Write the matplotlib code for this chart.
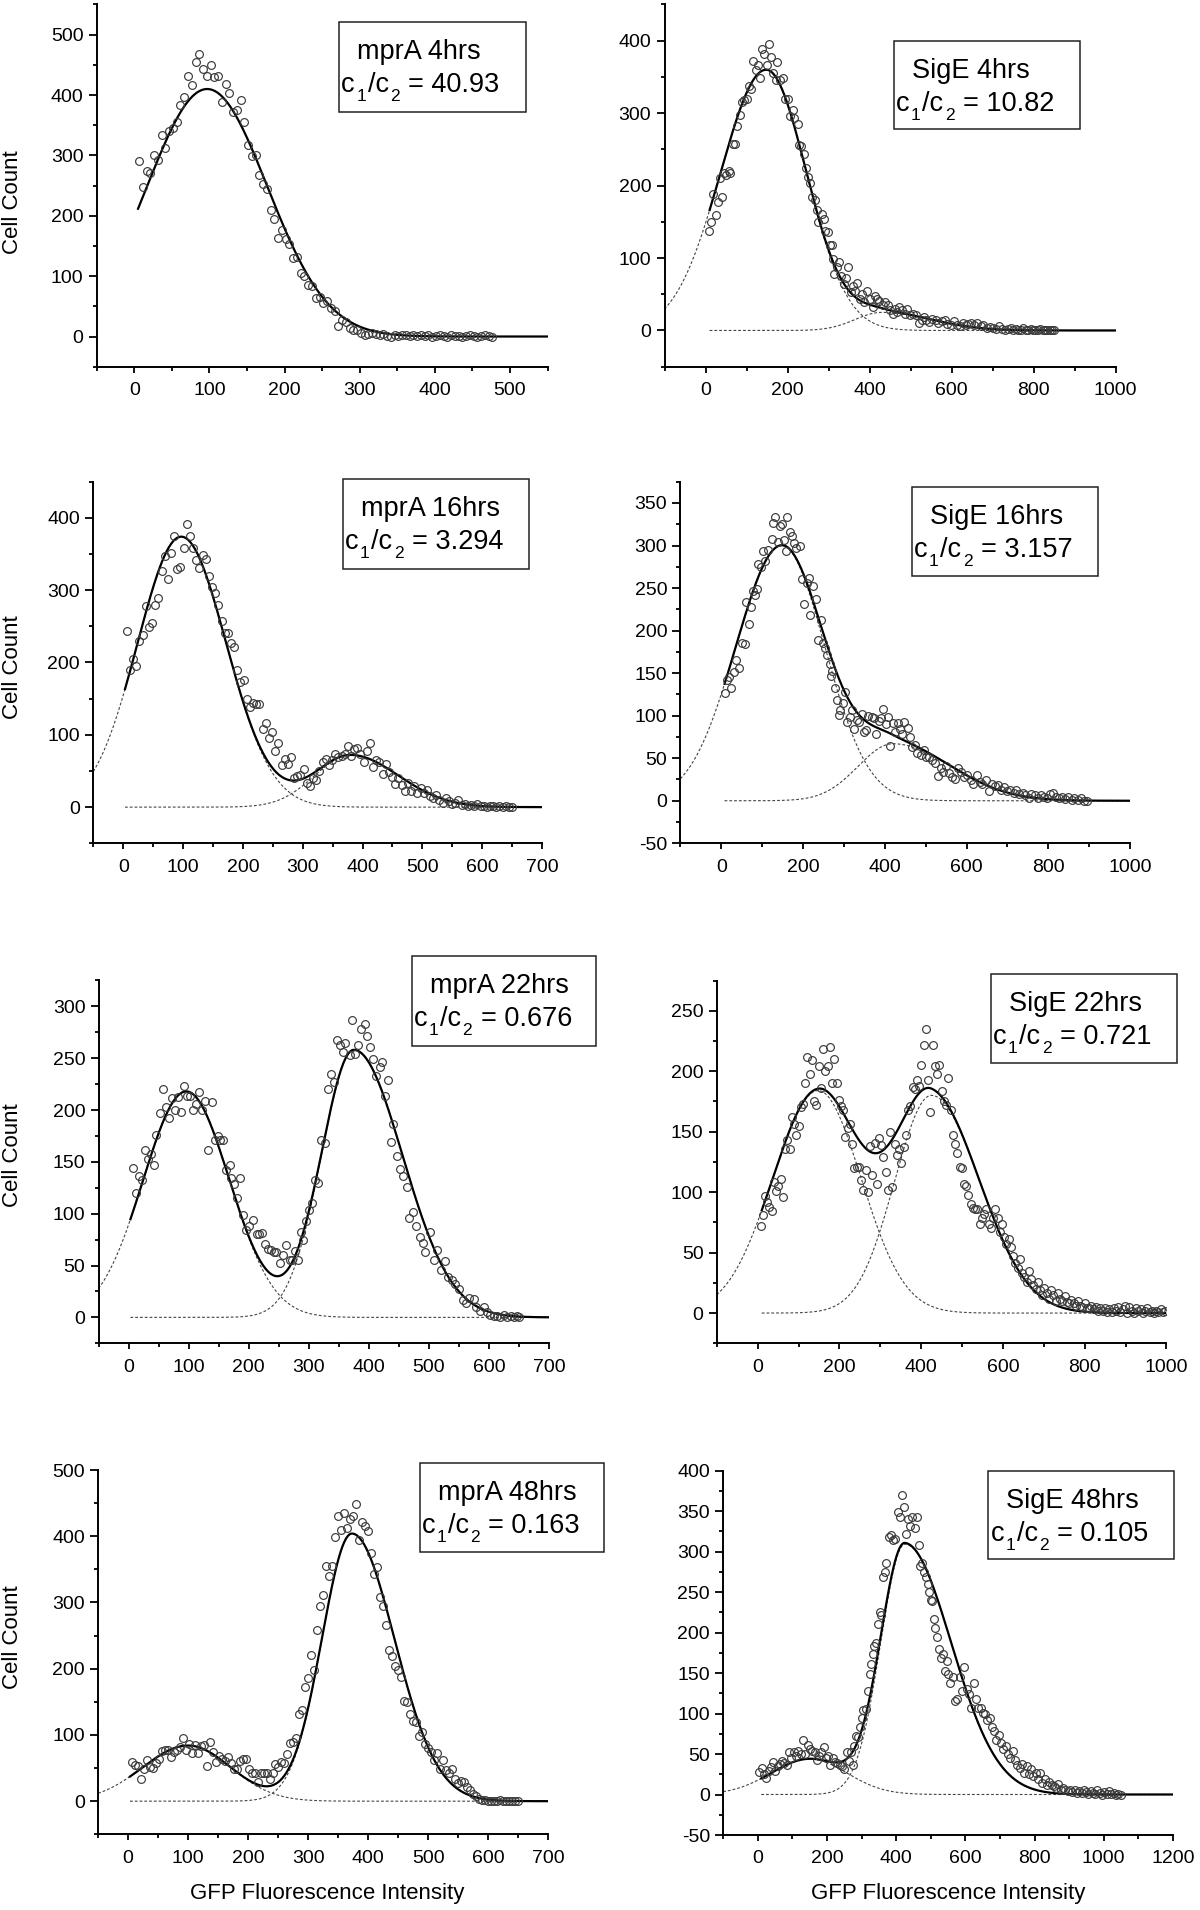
import numpy as np
import matplotlib.pyplot as plt
from matplotlib.patches import Rectangle
from matplotlib.ticker import MultipleLocator

plt.rcParams['font.family'] = ['Liberation Sans', 'DejaVu Sans']
plt.rcParams['axes.unicode_minus'] = False

W, H = 1200, 1910

### Data: GFP histogram bins (x) and cell counts (y)

names = ["mprA 4hrs", "SigE 4hrs", "mprA 16hrs", "SigE 16hrs",
         "mprA 22hrs", "SigE 22hrs", "mprA 48hrs", "SigE 48hrs"]
ratios = ["40.93", "10.82", "3.294", "3.157", "0.676", "0.721", "0.163", "0.105"]

counts_mprA_4 = [290, 247, 274, 271, 300, 293, 333, 313, 340, 346,
                 355, 383, 397, 432, 417, 454, 468, 443, 432, 449,
                 430, 431, 389, 418, 404, 372, 376, 391, 355, 318,
                 299, 301, 268, 252, 245, 209, 194, 164, 176, 162,
                 153, 130, 132, 105, 101, 86, 84, 63, 66, 55,
                 59, 48, 43, 18, 27, 24, 14, 11, 10, 6,
                 3, 4, 6, 4, 2, 4, 1, 0, 3, 1,
                 2, 3, 1, 2, 1, 2, 1, 3, 0, 1,
                 2, 1, 0, 2, 1, 1, 0, 1, 2, 1,
                 0, 1, 2, 1, 0]
x_mprA_4 = np.linspace(6.5, 476.5, len(counts_mprA_4))

x_sigE_4 = [9, 14, 19, 25, 30, 35, 40, 44, 51, 57,
            60, 66, 72, 77, 84, 89, 94, 100, 105, 112,
            117, 122, 128, 134, 137, 143, 149, 154, 160, 165,
            171, 174, 182, 189, 195, 201, 206, 213, 217, 225,
            229, 234, 240, 245, 250, 255, 259, 266, 272, 275,
            283, 288, 292, 298, 303, 309, 310, 314, 320, 326,
            331, 337, 343, 348, 354, 359, 364, 370, 376, 382,
            387, 395, 401, 408, 413, 419, 424, 432, 438, 445,
            451, 457, 462, 467, 473, 480, 486, 492, 499, 507,
            514, 521, 527, 533, 538, 546, 553, 561, 568, 576,
            583, 590, 598, 605, 613, 620, 628, 635, 641, 648,
            656, 663, 671, 678, 686, 693, 700, 708, 715, 723,
            730, 738, 745, 751, 757, 763, 769, 775, 781, 787,
            793, 799, 804, 810, 816, 822, 828, 834, 840, 845, 850]
counts_sigE_4 = [138, 150, 189, 159, 177, 210, 184, 217, 214, 220,
                 217, 258, 257, 282, 297, 316, 318, 320, 337, 333,
                 372, 359, 367, 348, 389, 382, 366, 396, 377, 355,
                 346, 370, 346, 348, 320, 319, 296, 304, 293, 285,
                 256, 254, 244, 224, 212, 204, 184, 180, 167, 150,
                 161, 154, 138, 136, 118, 118, 99, 78, 88, 94,
                 75, 64, 73, 88, 53, 61, 54, 65, 43, 51,
                 39, 55, 44, 32, 47, 44, 41, 35, 39, 35,
                 28, 23, 30, 25, 33, 28, 23, 30, 21, 23,
                 22, 10, 14, 18, 14, 12, 16, 15, 10, 13,
                 15, 9, 7, 13, 8, 6, 10, 7, 9, 10,
                 7, 10, 6, 7, 4, 5, 4, 2, 6, 2,
                 1, 2, 3, 1, 2, 0, 1, 3, 1, 0,
                 2, 1, 0, 1, 2, 0, 1, 0, 1, 0, 1]

counts_mprA_16 = [243, 189, 205, 195, 230, 238, 278, 249, 255, 279,
                  289, 327, 347, 316, 351, 375, 329, 332, 358, 391,
                  375, 359, 342, 330, 349, 343, 319, 304, 296, 279,
                  257, 241, 241, 227, 222, 190, 173, 176, 149, 138,
                  144, 143, 143, 108, 117, 95, 104, 77, 88, 58,
                  67, 60, 69, 40, 43, 44, 53, 33, 29, 40,
                  37, 50, 62, 66, 58, 65, 74, 69, 71, 74,
                  85, 71, 80, 82, 74, 62, 78, 89, 56, 65,
                  63, 46, 59, 49, 42, 32, 40, 31, 23, 33,
                  22, 29, 19, 26, 20, 24, 15, 12, 17, 10,
                  6, 12, 9, 5, 6, 10, 3, 5, 2,
                  3, 2, 4, 1, 2, 0, 1, 2, 0, 1, 0, 1, 0, 0]
x_mprA_16 = np.linspace(6, 650, len(counts_mprA_16))

x_sigE_16 = [8, 14, 18, 23, 31, 37, 43, 50, 57, 61,
             67, 73, 78, 83, 87, 91, 96, 102, 108, 115,
             123, 126, 132, 139, 143, 149, 154, 158, 162, 168,
             173, 179, 184, 192, 198, 203, 209, 214, 218, 224,
             231, 237, 243, 248, 254, 259, 265, 269, 272, 278,
             284, 287, 291, 297, 302, 308, 314, 319, 325, 331,
             338, 344, 349, 355, 360, 368, 374, 379, 385, 391,
             396, 402, 407, 413, 419, 424, 432, 437, 443, 448,
             456, 462, 467, 473, 480, 488, 495, 501, 508, 516,
             523, 531, 537, 542, 550, 557, 565, 572, 580, 587,
             595, 602, 610, 617, 625, 632, 639, 647, 654, 662,
             670, 677, 684, 692, 699, 707, 715, 722, 729, 737,
             744, 752, 759, 767, 774, 782, 789, 797, 804, 812,
             819, 827, 834, 842, 849, 857, 864, 872, 879, 887, 894]
counts_sigE_16 = [127, 142, 145, 133, 151, 166, 156, 185, 184, 234,
                  208, 228, 246, 242, 249, 278, 275, 294, 282, 295,
                  308, 326, 333, 304, 323, 325, 306, 294, 333, 316,
                  311, 303, 297, 299, 261, 231, 256, 262, 218, 252,
                  237, 189, 213, 185, 179, 171, 161, 147, 153, 132,
                  118, 101, 107, 115, 128, 92, 99, 107, 84, 95,
                  93, 102, 81, 83, 100, 99, 97, 79, 94, 97,
                  108, 90, 98, 64, 91, 81, 91, 84, 78, 93,
                  85, 75, 63, 65, 56, 54, 60, 51, 52, 48,
                  44, 29, 38, 34, 41, 33, 28, 25, 38, 34,
                  28, 30, 24, 20, 30, 22, 20, 24, 12, 20,
                  17, 18, 13, 16, 11, 13, 9, 13, 8, 9,
                  7, 3, 8, 7, 3, 7, 5, 3, 8, 9,
                  5, 3, 5, 2, 4, 1, 3, 1, 3, 0, 0]

x_mprA_22 = [7, 12, 18, 23, 28, 32, 37, 43, 46, 52,
             57, 62, 68, 73, 77, 83, 88, 93, 98, 102,
             107, 112, 117, 123, 127, 132, 138, 143, 148, 152,
             157, 162, 168, 171, 176, 181, 186, 190, 195, 201,
             207, 213, 217, 222, 227, 232, 237, 242, 246, 252,
             257, 262, 268, 272, 277, 282, 287, 291, 296, 301,
             306, 311, 316, 321, 327, 332, 337, 342, 347, 352,
             357, 361, 368, 372, 377, 382, 387, 393, 397, 402,
             407, 412, 418, 422, 427, 432, 437, 441, 447, 452,
             457, 463, 467, 473, 479, 485, 490, 494, 502, 508,
             513, 520, 526, 532, 538, 544, 550, 556, 562, 567,
             575, 579, 585, 591, 596, 602, 608, 613, 619, 625,
             630, 636, 641, 646, 650]
counts_mprA_22 = [144, 120, 136, 133, 161, 153, 158, 147, 176, 197,
                  220, 203, 192, 212, 200, 213, 198, 223, 214, 214,
                  200, 206, 217, 200, 209, 161, 208, 171, 175, 171,
                  171, 142, 147, 134, 129, 115, 134, 99, 84, 88,
                  94, 80, 80, 81, 71, 66, 65, 63, 63, 52,
                  60, 70, 55, 55, 64, 55, 82, 75, 93, 104,
                  110, 133, 130, 171, 168, 220, 235, 227, 268, 263,
                  256, 265, 253, 287, 254, 263, 278, 283, 271, 261,
                  249, 233, 242, 246, 214, 229, 169, 187, 156, 143,
                  136, 126, 96, 102, 88, 78, 72, 63, 82, 55,
                  65, 46, 54, 39, 36, 32, 27, 17, 14, 19,
                  18, 10, 6, 10, 5, 2, 1, 1, 0, 2,
                  0, 1, 0, 1, 0]

counts_sigE_22 = [72, 81, 97, 92, 88, 84, 108, 101, 105, 111,
                  96, 136, 143, 136, 162, 156, 147, 155, 170, 173,
                  190, 212, 198, 209, 175, 172, 204, 186, 218, 200,
                  204, 220, 190, 210, 190, 176, 171, 168, 146, 153,
                  156, 140, 120, 121, 121, 110, 102, 118, 100, 138,
                  114, 141, 107, 145, 139, 129, 117, 102, 150, 104,
                  140, 131, 136, 124, 137, 147, 168, 171, 187, 185,
                  193, 188, 205, 222, 235, 193, 166, 222, 204, 198,
                  205, 184, 175, 172, 194, 168, 147, 140, 132, 121,
                  120, 107, 105, 98, 90, 87, 86, 86, 74, 79,
                  82, 86, 74, 70, 79, 86, 79, 67, 74, 63,
                  57, 61, 55, 47, 41, 37, 45, 33, 30, 26,
                  35, 28, 23, 20, 26, 19, 15, 21, 17, 12,
                  19, 15, 10, 17, 12, 10, 14, 9, 8, 11,
                  8, 6, 10, 6, 5, 8, 4, 4, 6, 3,
                  5, 2, 4, 2, 4, 1, 3, 1, 4, 2,
                  5, 1, 3, 6, 0, 5, 2, 0, 4, 2,
                  3, 0, 2, 4, 1, 2, 0, 2, 1, 3,
                  1, 2]
x_sigE_22 = np.linspace(7, 997, len(counts_sigE_22))

counts_mprA_48 = [59, 54, 53, 33, 48, 62, 52, 50, 57, 63,
                  76, 78, 77, 66, 75, 77, 82, 96, 77, 87,
                  73, 85, 72, 83, 85, 53, 90, 75, 59, 68,
                  63, 61, 67, 58, 49, 49, 61, 64, 64, 49,
                  43, 42, 29, 43, 43, 43, 34, 43, 56, 52,
                  59, 57, 71, 88, 90, 95, 131, 137, 172, 186,
                  221, 198, 259, 295, 311, 355, 340, 355, 399, 431,
                  410, 435, 413, 426, 431, 449, 394, 422, 415, 408,
                  374, 343, 353, 309, 295, 266, 228, 219, 204, 198,
                  187, 152, 149, 132, 121, 120, 98, 105, 87, 80,
                  75, 62, 72, 49, 62, 47, 42, 49, 33, 27,
                  31, 29, 22, 17, 11, 8, 4, 2,
                  2, 1, 0, 1, 0, 2, 0, 1, 0, 0, 1, 0]
x_mprA_48 = np.linspace(6, 650, len(counts_mprA_48))

x_sigE_48 = [4, 11, 18, 24, 31, 38, 44, 51, 57, 64,
             71, 77, 84, 91, 97, 104, 111, 117, 124, 131,
             137, 144, 150, 157, 164, 170, 177, 184, 190, 197,
             204, 210, 217, 223, 230, 237, 243, 250, 257, 263,
             269, 274, 279, 283, 290, 296, 301, 305, 312, 319,
             323, 327, 332, 336, 343, 347, 352, 356, 363, 367,
             372, 378, 385, 392, 398, 405, 411, 418, 422, 427,
             434, 440, 447, 454, 460, 465, 469, 476, 480, 485,
             491, 496, 500, 504, 509, 513, 518, 524, 531, 535,
             540, 546, 551, 557, 564, 571, 577, 584, 590, 597,
             604, 610, 617, 624, 631, 637, 644, 650, 657, 664,
             670, 677, 684, 690, 697, 704, 710, 717, 723, 730,
             737, 743, 750, 757, 763, 770, 777, 783, 790, 796,
             803, 810, 816, 823, 830, 836, 843, 850, 856, 863,
             869, 876, 883, 889, 896, 903, 909, 916, 923, 929,
             936, 943, 949, 956, 962, 969, 976, 982, 989, 996,
             1002, 1009, 1016, 1022, 1029, 1036, 1042, 1049]
counts_sigE_48 = [28, 33, 25, 20, 29, 34, 40, 29, 35, 38,
                  41, 39, 37, 52, 45, 53, 48, 54, 50, 67,
                  50, 61, 56, 54, 52, 42, 48, 53, 59, 45,
                  48, 36, 45, 40, 39, 37, 35, 32, 52, 41,
                  52, 37, 60, 72, 71, 83, 94, 104, 105, 128,
                  149, 161, 174, 183, 187, 211, 225, 221, 269, 275,
                  286, 318, 320, 314, 316, 349, 342, 370, 355, 322,
                  340, 331, 343, 329, 342, 308, 282, 286, 275, 268,
                  260, 250, 240, 239, 217, 206, 195, 180, 169, 174,
                  153, 165, 149, 138, 145, 116, 118, 145, 128, 157,
                  130, 124, 107, 138, 118, 107, 107, 101, 99, 92,
                  95, 83, 79, 67, 74, 64, 56, 60, 50, 45,
                  54, 42, 37, 33, 38, 27, 35, 25, 31, 23,
                  27, 19, 26, 14, 19, 12, 16, 12, 10, 8,
                  13, 5, 8, 6, 4, 6, 3, 5, 2, 4,
                  2, 6, 3, 1, 4, 2, 1, 6, 2, 0,
                  3, 1, 4, 1, 2, 0, 1, 0]

bins = [x_mprA_4, x_sigE_4, x_mprA_16, x_sigE_16,
        x_mprA_22, x_sigE_22, x_mprA_48, x_sigE_48]
counts = [counts_mprA_4, counts_sigE_4, counts_mprA_16, counts_sigE_16,
          counts_mprA_22, counts_sigE_22, counts_mprA_48, counts_sigE_48]

# fitted peaks: (height, centre, width left, width right)
peaks = [
    [(410, 97, 80, 80)],
    [(360, 148, 111, 98), (25, 430, 65, 120)],
    [(374, 97, 73, 75), (72, 380, 60, 80)],
    [(300, 148, 112, 105), (67, 420, 85, 142)],
    [(218, 96, 72, 72), (258, 375, 54, 81)],
    [(184, 148, 111, 105), (180, 425, 90, 118)],
    [(84, 100, 76, 71), (404, 373, 50, 71)],
    [(44, 150, 111, 107), (309, 425, 70, 134)],
]
fit_start = [5, 10, 3, 8, 3, 10, 3, 10]

x_limits = [(-50, 550), (-100, 1000), (-50, 700), (-100, 1000),
            (-50, 700), (-100, 1000), (-50, 700), (-100, 1200)]
y_limits = [(-50, 550), (-50, 450), (-50, 450), (-50, 375),
            (-25, 325), (-25, 275), (-50, 500), (-50, 400)]
x_major = [100, 200, 100, 200, 100, 200, 100, 200]
y_major = [100, 100, 100, 50, 50, 50, 100, 50]

### Layout (pixels: left, top, right, bottom)

axes_px = [(96.7, 4.5, 547.6, 366.7), (664.5, 4.5, 1115.5, 366.7),
           (93.3, 481.7, 542, 843.3), (680.4, 481.7, 1130, 843.3),
           (98.6, 980.5, 549, 1343.3), (716.8, 980.5, 1166.4, 1343.3),
           (98.2, 1470, 548, 1834.3), (723.2, 1470.5, 1172.9, 1835)]
box_px = [(339.3, 22.3, 525.7, 111.7), (894, 40.7, 1080, 129),
          (343, 479, 528.6, 569), (912, 486.7, 1097.5, 576),
          (411.8, 956, 595.7, 1046), (991, 974, 1176.7, 1063.3),
          (419.6, 1463.3, 604, 1551.7), (988.4, 1470.7, 1174, 1559)]
ylabel_y = [202, 667.5, 1155, 1637]


def split_gauss(x, height, centre, wl, wr):
    w = np.where(x < centre, wl, wr)
    return height * np.exp(-(x - centre) ** 2 / (2 * w ** 2))


def ratio_text(fig, renderer, x_px, y_px, value):
    # c1/c2 with dropped subscripts, laid out piece by piece
    pieces = [('c', 19.5, 0, 0), ('1', 12.5, 9, 0), ('/c', 19.5, 0, 0),
              ('2', 12.5, 9, 7), ('= ' + value, 19.5, 0, 0)]
    for s, size, drop, gap in pieces:
        t = fig.text(x_px / W, 1 - (y_px + drop) / H, s, fontsize=size, va='baseline')
        x_px += t.get_window_extent(renderer).width + 1.5 + gap


def draw_panel(fig, renderer, i):
    l, t, r, b = axes_px[i]
    ax = fig.add_axes([l / W, 1 - b / H, (r - l) / W, (b - t) / H])
    x0, x1 = x_limits[i]

    ax.plot(bins[i], counts[i], 'o', ms=5.6, mfc='none', mec='#3a3a3a', mew=0.85, zorder=3)

    xfit = np.linspace(fit_start[i], x1, 800)
    total = sum(split_gauss(xfit, *p) for p in peaks[i])
    ax.plot(xfit, total, color='black', lw=1.6, zorder=2)

    if len(peaks[i]) > 1:
        xa = np.linspace(x0, x1, 800)
        ax.plot(xa, split_gauss(xa, *peaks[i][0]), ls=(0, (2.5, 1.8)), lw=0.8, color='#444444', zorder=1)
        ax.plot(xfit, split_gauss(xfit, *peaks[i][1]), ls=(0, (2.5, 1.8)), lw=0.8, color='#444444', zorder=1)

    ax.set_xlim(x0, x1)
    ax.set_ylim(*y_limits[i])
    for side in ['top', 'right']:
        ax.spines[side].set_visible(False)
    for side in ['left', 'bottom']:
        ax.spines[side].set_linewidth(1.4)
    ax.xaxis.set_major_locator(MultipleLocator(x_major[i]))
    ax.xaxis.set_minor_locator(MultipleLocator(x_major[i] / 2))
    ax.yaxis.set_major_locator(MultipleLocator(y_major[i]))
    ax.yaxis.set_minor_locator(MultipleLocator(y_major[i] / 2))
    ax.tick_params(which='both', direction='out', width=1.3, labelsize=14)
    ax.tick_params(axis='x', which='major', length=4.5, pad=6.5)
    ax.tick_params(axis='y', which='major', length=5.5, pad=4)
    ax.tick_params(which='minor', length=3)

    bl, bt, br, bb = box_px[i]
    fig.patches.append(Rectangle((bl / W, 1 - bb / H), (br - bl) / W, (bb - bt) / H,
                                 transform=fig.transFigure, fill=False, lw=1.1, ec='#222222'))
    fig.text((bl + 18) / W, 1 - (bt + 37) / H, names[i], fontsize=19.5, va='baseline')
    ratio_text(fig, renderer, bl + 2, bt + 70, ratios[i])
    return ax


fig = plt.figure(figsize=(W / 100, H / 100), dpi=100)
renderer = fig.canvas.get_renderer()
for i in range(len(names)):
    draw_panel(fig, renderer, i)

for yy in ylabel_y:
    fig.text(13 / W, 1 - yy / H, 'Cell Count', rotation=90, ha='center', va='center', fontsize=16)
fig.text(327 / W, 1 - 1893 / H, 'GFP Fluorescence Intensity', ha='center', va='center', fontsize=16)
fig.text(948 / W, 1 - 1893 / H, 'GFP Fluorescence Intensity', ha='center', va='center', fontsize=16)

fig.savefig('out.png', dpi=100)
